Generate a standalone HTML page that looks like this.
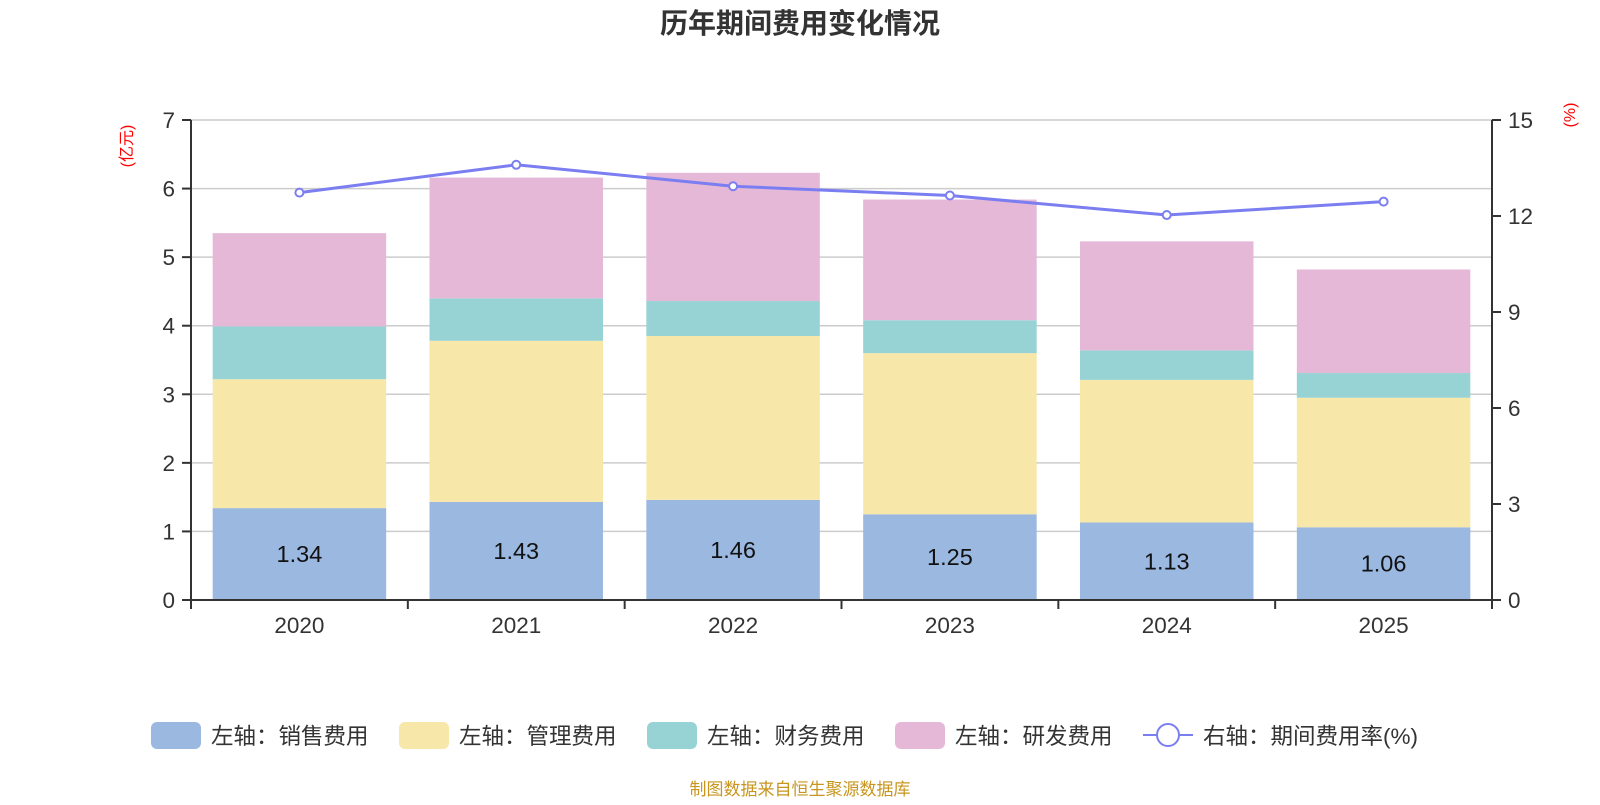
<!DOCTYPE html>
<html><head><meta charset="utf-8"><style>
body{margin:0;background:#fff;font-family:"Liberation Sans","Noto Sans CJK SC",sans-serif}
svg text{font-family:"Liberation Sans","Noto Sans CJK SC",sans-serif}
</style></head><body>
<svg id="c" width="1600" height="800" xmlns="http://www.w3.org/2000/svg"></svg>
<script>
const categories=["2020","2021","2022","2023","2024","2025"];
const sales=[1.34,1.43,1.46,1.25,1.13,1.06];
const mgmt=[1.88,2.35,2.39,2.35,2.08,1.89];
const fin=[0.77,0.62,0.51,0.48,0.43,0.36];
const rd=[1.36,1.76,1.87,1.76,1.59,1.51];
const rate=[12.73,13.6,12.93,12.64,12.03,12.45];
const leftTicks=[0,1,2,3,4,5,6,7];
const rightTicks=[0,3,6,9,12,15];
const seriesNames=["左轴：销售费用","左轴：管理费用","左轴：财务费用","左轴：研发费用"];
const colors=["#9bb8e1","#f7e7a9","#97d3d4","#e6b8d7"];

const svg=document.getElementById('c');
const NS="http://www.w3.org/2000/svg";
const X0=191,X1=1492,Y0=600,Y1=120;
const band=(X1-X0)/categories.length, barW=173.5;
const yL=v=>Y0-(v/7)*(Y0-Y1);
const yR=v=>Y0-(v/15)*(Y0-Y1);
const xC=i=>X0+band*(i+0.5);
function el(t,a,txt){const e=document.createElementNS(NS,t);for(const k in a)e.setAttribute(k,a[k]);if(txt!=null)e.textContent=txt;svg.appendChild(e);return e;}

let e=el('text',{x:800,y:33,'text-anchor':'middle','font-size':28,'font-weight':'bold',fill:'#333'},'历年期间费用变化情况');



leftTicks.forEach(t=>{
  if(t>0){let g=el('line',{x1:X0,x2:X1,y1:yL(t),y2:yL(t),stroke:'#ccc','stroke-width':1.5});
  
  }
  let l=el('line',{x1:X0-9,x2:X0,y1:yL(t),y2:yL(t),stroke:'#333','stroke-width':2});
  
  
  let tx=el('text',{x:X0-16,y:yL(t)+8,'text-anchor':'end','font-size':22.5,fill:'#333'},t);
  
  
});
rightTicks.forEach(t=>{
  let l=el('line',{x1:X1,x2:X1+9,y1:yR(t),y2:yR(t),stroke:'#333','stroke-width':2});
  
  
  let tx=el('text',{x:X1+16,y:yR(t)+8,'text-anchor':'start','font-size':22.5,fill:'#333'},t);
  
  
});
e=el('text',{x:0,y:0,transform:'translate(132,146) rotate(-90)','text-anchor':'middle','font-size':16,fill:'#f00'},'(亿元)');


e=el('text',{x:0,y:0,transform:'translate(1575,115) rotate(-90)','text-anchor':'middle','font-size':16,fill:'#f00'},'(%)');



const stacks=[sales,mgmt,fin,rd];
categories.forEach((c,i)=>{
  let base=0;
  stacks.forEach((s,k)=>{
    const top=base+s[i];
    let r=el('rect',{x:xC(i)-barW/2,y:yL(top),width:barW,height:yL(base)-yL(top),fill:colors[k]});
    
    
    base=top;
  });
  let lb=el('text',{x:xC(i),y:(yL(0)+yL(sales[i]))/2+8,'text-anchor':'middle','font-size':23.5,fill:'#111'},sales[i].toFixed(2));
  
  
  let xt=el('text',{x:xC(i),y:Y0+33,'text-anchor':'middle','font-size':22.5,fill:'#333'},c);
  
  
});
for(let i=0;i<=categories.length;i++){
  let t=el('line',{x1:X0+band*i,x2:X0+band*i,y1:Y0,y2:Y0+9,stroke:'#333','stroke-width':2});
  
  
}
e=el('line',{x1:X0,x2:X0,y1:Y1,y2:Y0,stroke:'#333','stroke-width':2});


e=el('line',{x1:X1,x2:X1,y1:Y1,y2:Y0+9,stroke:'#333','stroke-width':2});


e=el('line',{x1:X0,x2:X1,y1:Y0,y2:Y0,stroke:'#333','stroke-width':2});



e=el('polyline',{points:rate.map((v,i)=>xC(i)+','+yR(v)).join(' '),fill:'none',stroke:'#7b7ef0','stroke-width':3});


rate.forEach((v,i)=>{
  let p=el('circle',{cx:xC(i),cy:yR(v),r:4,fill:'#fff',stroke:'#7b7ef0','stroke-width':2});
  
  
});

const legX=[151,399,647,895,1143];
seriesNames.forEach((n,k)=>{
  let r=el('rect',{x:legX[k],y:722,width:50,height:27,rx:6,fill:colors[k]});
  
  
  let t=el('text',{x:legX[k]+60,y:744,'font-size':22.5,fill:'#333'},n);
  
  
});
e=el('line',{x1:1143,x2:1193,y1:735,y2:735,stroke:'#7b7ef0','stroke-width':2});


e=el('circle',{cx:1168,cy:735,r:11,fill:'#fff',stroke:'#7b7ef0','stroke-width':2});


e=el('text',{x:1203,y:744,'font-size':22.5,fill:'#333'},'右轴：期间费用率(%)');



e=el('text',{x:800,y:795,'text-anchor':'middle','font-size':17,fill:'#c8961e'},'制图数据来自恒生聚源数据库');


</script>
</body></html>
